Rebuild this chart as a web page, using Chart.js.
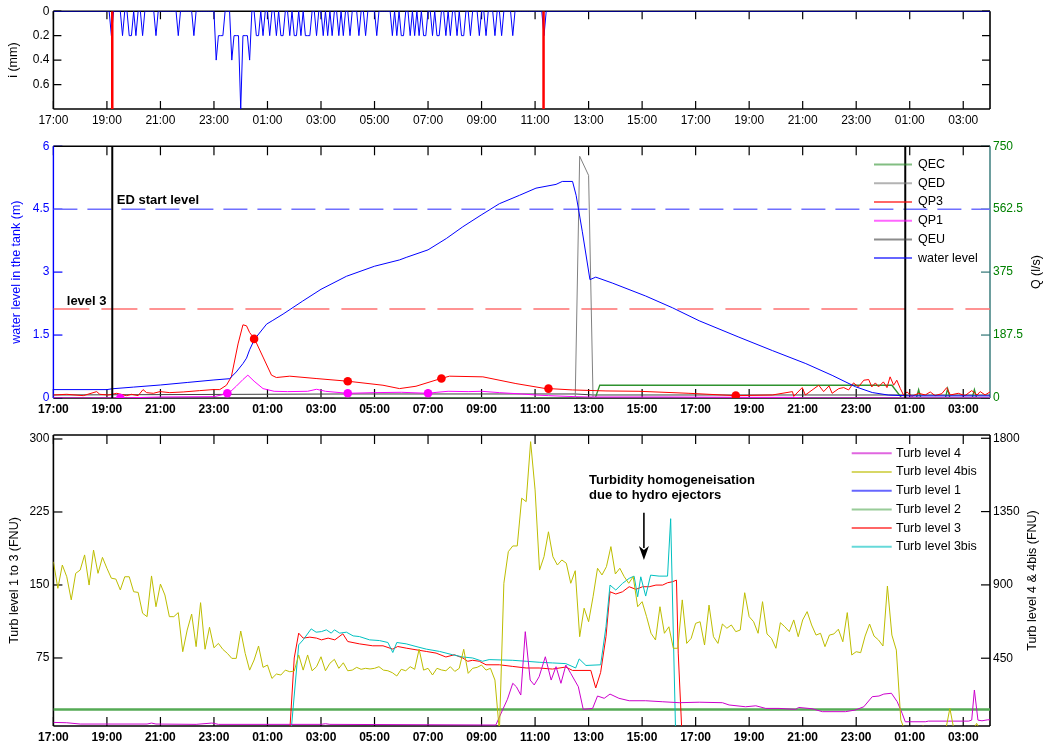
<!DOCTYPE html>
<html>
<head>
<meta charset="utf-8">
<title>Storage tank: rain, water level, flows and turbidity</title>
<script src="https://cdn.jsdelivr.net/npm/chart.js@4.4.1/dist/chart.umd.min.js"></script>
<style>
  html, body { margin: 0; padding: 0; background: #fff; }
  #page { position: relative; width: 1045px; height: 749px; overflow: hidden; }
  #page canvas { position: absolute; left: 0; }
</style>
</head>
<body>
<div id="page">
  <canvas id="rainChart" width="1045" height="135" style="top:0px"></canvas>
  <canvas id="levelChart" width="1045" height="285" style="top:135px"></canvas>
  <canvas id="turbChart" width="1045" height="329" style="top:420px"></canvas>
</div>
<script>
// ---------------------------------------------------------------------------
// Time axis: 17:00 on day 1 to 04:00 on day 3. Clock strings without a day
// prefix are read in sequence (a wrap past 17:00 moves to the next day);
// "d HH:MM" pins the day explicitly.
// ---------------------------------------------------------------------------
const axisSpan = ['1 17:00', '3 04:00'];
const xTickLabels = ['17:00','19:00','21:00','23:00','01:00','03:00','05:00','07:00','09:00',
                     '11:00','13:00','15:00','17:00','19:00','21:00','23:00','01:00','03:00'];

// ---------------- rain intensity, 5-minute steps from 19:00 (mm) -----------
const rainStart = '1 19:00';
const rainStepMinutes = 5;
const rainValues = [
  0,0,0.2,0,0,0,0,0.2,0,0,0.2,0.2,          // 19:00
  0,0.2,0,0,0.2,0,0,0,0,0,0.2,0,            // 20:00
  0,0,0,0,0,0,0,0,0.2,0,0,0,                // 21:00
  0,0,0,0.2,0,0,0,0,0,0,0,0,                // 22:00
  0,0.4,0.2,0.2,0.2,0,0,0,0.4,0.2,0.2,0.2,  // 23:00
  0.8,0.2,0.2,0.2,0.4,0,0,0.2,0.2,0,0.2,0,  // 00:00
  0,0.2,0,0,0.2,0,0.2,0.2,0,0,0.2,0,        // 01:00
  0.2,0.2,0,0.2,0,0.2,0.2,0.2,0,0,0.2,0,    // 02:00
  0,0.2,0,0.2,0,0.2,0,0,0.2,0,0.2,0,        // 03:00
  0,0.2,0,0,0,0.2,0,0,0.2,0,0,0,            // 04:00
  0,0.2,0,0,0,0,0,0,0.2,0,0.2,0,            // 05:00
  0.2,0.2,0,0,0.2,0,0.2,0,0.2,0,0.2,0.2,    // 06:00
  0,0,0.2,0,0.2,0.2,0,0,0.2,0,0.2,0,        // 07:00
  0,0.2,0,0.2,0.2,0,0,0.2,0,0,0,0.2,        // 08:00
  0,0,0.2,0,0,0,0.2,0,0,0.2,0,0,            // 09:00
  0,0,0.2,0,0,0,0,0,0,0,0,0,                // 10:00
  0,0,0,0,0.2,0,0                           // 11:00
];
const rainEventTimes = ['1 19:12', '2 11:19'];
const rainTicks = [0, 0.2, 0.4, 0.6];
const rainTickLabels = ['0', '0.2', '0.4', '0.6'];

// ---------------- water level in the tank (m) -------------------------------
const levelTimes = ['17:00','19:00','19:12','20:00','21:00','22:00','23:00','23:35','23:50','00:05',
  '00:13','00:20','00:31','00:58','01:12','01:35','02:19','03:00','03:57','05:00','05:56','06:11',
  '07:00','07:41','08:18','08:59','09:40','10:25','11:02','11:47','12:01','12:24','12:32','12:46',
  '13:03','13:16','13:53','15:08','16:08','17:08','18:37','19:52','21:07','22:06','22:58','23:36',
  '00:12','01:00','04:00'];
const levelValues = [0.20,0.20,0.22,0.26,0.31,0.37,0.43,0.46,0.62,0.82,
  0.95,1.15,1.40,1.76,1.85,2.00,2.31,2.59,2.90,3.14,3.29,3.35,
  3.53,3.80,4.08,4.36,4.63,4.83,5.00,5.09,5.16,5.16,4.83,3.96,
  2.82,2.88,2.74,2.43,2.15,1.84,1.45,1.13,0.82,0.54,0.27,0.13,
  0.07,0.05,0.05];
const edStartLevel = 4.5;     // m
const level3 = 2.12;          // m
const levelEventTimes = ['1 19:12', '3 00:50'];

// ---------------- flows (l/s) ------------------------------------------------
const qp3Times = ['17:00','17:30','18:07','18:37','18:44','19:03','19:22','19:44','19:55','20:10',
  '20:21','20:29','20:44','20:59','21:21','21:51','22:28','22:58','23:13','23:28',
  '23:39','23:54','00:05','00:13','00:20','00:31','00:50','01:09','01:20','01:50',
  '02:49','04:00','05:19','05:56','06:33','07:29','07:48','09:03','10:17','11:24',
  '11:32','12:24','13:39','14:53','16:45','18:30','19:52','20:37','20:40','20:59',
  '21:06','21:36','21:47','21:59','22:06','22:21','22:32','22:43','22:54','23:05',
  '23:17','23:28','23:35','23:43','23:50','00:01','00:09','00:16','00:24','00:31',
  '00:39','00:46','00:54','01:05','01:20','01:35','01:46','01:57','02:12','02:23',
  '02:31','02:49','03:04','03:19','03:31','03:38','03:49','04:00'];
const qp3Values = [9,11,7,19,11,9,14,7,11,7,
  25,16,14,19,16,18,22,25,25,38,
  63,161,218,215,195,176,122,68,61,65,
  58,50,38,28,35,58,65,63,43,28,
  28,24,21,20,14,7,9,19,5,31,
  9,38,19,36,14,28,31,24,45,33,
  53,55,33,45,33,48,31,63,38,53,
  28,9,18,5,14,9,18,7,13,31,
  9,14,7,22,9,19,9,18];
const qp3MarkerTimes = ['2 00:30', '2 04:00', '2 07:30', '2 11:30', '2 18:30'];
const qp3MarkerValues = [176, 50, 58, 28, 7];

const qp1Times = ['17:00','19:30','20:30','21:00','23:00','23:33','23:50','00:05','00:16','00:30',
  '00:50','01:15','01:45','02:30','02:50','03:10','04:00','05:00','06:00','07:00',
  '07:20','07:45','08:30','09:00','09:40','10:30','11:00','11:30','12:30','13:00',
  '16:00','19:00','20:40','21:00','04:00'];
const qp1Values = [0,0,2,3,4,14,35,55,68,50,
  28,20,19,20,26,20,14,16,17,14,
  17,20,19,20,16,12,9,7,4,3,
  3,2,2,0,0];
const qp1MarkerTimes = ['1 19:30', '1 23:30', '2 04:00', '2 07:00'];
const qp1MarkerValues = [0, 14, 14, 14];

const qedTimes = ['17:00','12:30','12:40','13:00','13:10','04:00'];
const qedValues = [0, 0, 720, 663, 0, 0];

const qecTimes = ['03:30','13:15','13:25','00:20','00:42','01:15','01:20','01:25','02:20','02:25',
  '02:30','03:20','03:25','03:30','04:00'];
const qecValues = [0, 0, 38, 38, 0, 0, 25, 0, 0, 28, 0, 0, 25, 0, 0];

const qeuTimes = ['17:00','04:00','12:30','13:10','04:00'];
const qeuValues = [9, 12, 12, 9, 9];

const levelTicks = [0, 1.5, 3, 4.5, 6];
const levelTickLabels = ['0', '1.5', '3', '4.5', '6'];
const flowTicks = [0, 187.5, 375, 562.5, 750];
const flowTickLabels = ['0', '187.5', '375', '562.5', '750'];

// ---------------- turbidity (FNU) --------------------------------------------
const turb4Times = ['17:00','17:30','18:00','20:30','20:40','20:50','22:20','22:55','23:00','23:10',
  '03:00','03:10','03:20','09:32','09:47','09:58','10:10','10:18','10:28','10:38',
  '10:49','10:58','11:09','11:23','11:36','11:47','11:58','12:09','12:20','12:37',
  '12:48','13:09','13:20','13:35','13:48','14:08','14:31','15:08','15:45','16:23',
  '17:08','18:00','18:15','18:52','19:15','19:37','20:07','20:44','20:51','21:21',
  '21:44','22:36','22:58','23:17','23:36','23:51','00:02','00:19','00:32','00:43',
  '00:50','01:35','01:42','03:12','03:19','03:25','03:33','03:42','03:55','04:00'];
const turb4Values = [56,54,46,46,52,46,44,52,50,44,
  44,48,44,40,132,198,296,275,224,613,
  316,286,336,459,316,398,296,408,357,275,
  136,142,218,204,230,204,189,189,183,177,
  180,177,163,152,158,142,142,136,148,140,
  122,122,132,152,214,218,230,235,183,112,
  60,60,64,64,70,255,70,66,72,72];

// Turb level 4bis, 10-minute steps from 17:00
const turb4bisStart = '1 17:00';
const turb4bisStepMinutes = 10;
const turb4bisValues = [
  1042,879,1022,950,808,971,991,1084,899,1114,
  971,1069,1002,941,936,869,950,950,858,854,
  726,705,955,766,905,838,705,705,730,490,
  623,721,521,791,505,640,514,541,504,480,
  449,449,617,480,377,439,525,394,408,326,
  353,347,377,367,371,470,377,470,373,398,
  459,373,419,443,388,422,373,377,394,382,
  388,384,388,398,377,373,361,341,382,373,
  398,382,505,377,388,347,388,378,373,398,
  369,388,505,357,388,394,408,377,388,316,
  0,910,1104,1139,1139,1432,1411,1779,1483,991,
  1073,1226,1073,1022,1053,1033,910,987,582,757,
  674,827,1002,961,1012,1135,967,1002,950,910,
  950,766,797,705,603,562,766,603,643,511,
  511,808,541,572,664,674,531,776,582,541,
  660,634,654,613,623,852,705,674,603,797,
  599,572,511,668,643,613,685,582,685,736,
  654,592,603,521,592,599,628,551,730,470,
  490,484,586,660,586,562,525,893,592,500,
  71,0,0,0,0,36,0,0,0,0,
  0,142,0,0,0,0,0,50,0,0,0];

const turb1Times = ['1 17:00', '3 04:00'];
const turb1Values = [2, 2];
const turb2Times = ['1 17:00', '3 04:00'];
const turb2Values = [22, 22];

const turb3Times = ['17:00','01:50','02:00','02:10','02:20','02:35','02:50','03:01','03:16','03:31',
  '03:49','04:00','04:26','04:56','05:19','05:41','05:52','06:11','06:33','06:56',
  '07:18','07:40','07:59','08:18','08:29','08:40','08:55','09:10','09:40','10:10',
  '10:40','11:09','11:39','12:09','12:24','13:05','13:16','13:27','13:39','13:48',
  '14:01','14:16','14:31','14:46','15:01','15:16','15:31','15:46','15:57','16:08',
  '16:17','16:21','16:29','3 04:00'];
const turb3Values = [0,0,75,100.5,95.4,96.4,95.4,93.6,95.4,93.6,
  99.8,91.9,89.5,87.5,87.5,84.1,86.8,85.1,83.4,81.7,
  80,76,78.3,75,71.6,72.6,71.6,68,68,66.3,
  64.7,64.7,63.6,65.7,62.2,62.2,44.2,60.2,97,143,
  140.7,143,148.2,145.5,148.2,148.2,149.9,149.9,152.3,153.3,
  155,80,0,0];

const turb3bisTimes = ['17:00','01:53','02:10','02:20','02:38','02:49','03:01','03:12','03:23','03:30',
  '03:42','03:57','04:12','04:26','04:49','05:11','05:30','05:41','05:50','06:11',
  '06:33','06:56','07:26','07:55','08:18','08:40','09:02','09:17','10:10','10:40',
  '11:09','11:39','12:09','12:31','12:39','12:54','13:27','13:39','13:48','14:01',
  '14:16','14:31','14:42','14:50','14:57','15:08','15:19','15:38','15:57','16:04',
  '16:15','3 04:00'];
const turb3bisValues = [0,0,88.5,93.6,104.9,101.5,102.1,103.9,100.5,103.9,
  100.5,101.5,97.7,97,93.6,92.9,90.9,80.6,90.9,89.5,
  86.8,84.1,81.7,78.3,76,75,71.6,73.3,72.6,71.6,
  70.6,69.9,69.2,64.7,74,67.3,68,107.2,149.9,144.8,
  151.6,156.8,159.1,137.9,158.4,138.6,160.1,159.1,159.1,218.1,
  0,0];

const turbLeftTicks = [75, 150, 225, 300];
const turbLeftTickLabels = ['75', '150', '225', '300'];
const turbRightTicks = [450, 900, 1350, 1800];
const turbRightTickLabels = ['450', '900', '1350', '1800'];

// ---------------------------------------------------------------------------
// helpers
// ---------------------------------------------------------------------------
const AXIS_START = 17;
function parseTimes(list) {
  let prev = -Infinity, shift = 0;
  return list.map(s => {
    let day = null, clock = s;
    if (s.indexOf(' ') >= 0) { const p = s.split(' '); day = +p[0]; clock = p[1]; }
    const parts = clock.split(':').map(Number);
    const hod = parts[0] + parts[1] / 60;
    const base = (hod - AXIS_START + 24) % 24;
    let h;
    if (day !== null) {
      h = (day - 1) * 24 + hod - AXIS_START;
      shift = h - base;
    } else {
      h = base + shift;
      if (h < prev) { shift += 24; h += 24; }
    }
    prev = h;
    return h;
  });
}
function series(times, values) {
  const hrs = parseTimes(times);
  return hrs.map((h, i) => ({ x: h, y: values[i] }));
}
function regularSeries(start, stepMinutes, values) {
  const h0 = parseTimes([start])[0];
  return values.map((v, i) => ({ x: h0 + i * stepMinutes / 60, y: v }));
}
function verticalMarks(times, lo, hi) {
  const out = [];
  parseTimes(times).forEach(h => { out.push({ x: h, y: lo }, { x: h, y: hi }, { x: h, y: null }); });
  return out;
}
function horizontalLevel(value) {
  const s = parseTimes(axisSpan);
  return [{ x: s[0], y: value }, { x: s[1], y: value }];
}
const span = parseTimes(axisSpan);
const xTickHours = parseTimes(xTickLabels);

const FONT = '"Liberation Sans", Arial, Helvetica, sans-serif';
Chart.defaults.font.family = FONT;
Chart.defaults.font.size = 12;
Chart.defaults.color = '#000';

const LEFT_W = 53.4, RIGHT_W = 55;

function xAxis(bold, height, pad) {
  return {
    type: 'linear', position: 'bottom', min: span[0], max: span[1],
    grid: { display: false, drawTicks: false }, border: { display: false },
    afterBuildTicks: s => { s.ticks = xTickHours.map(v => ({ value: v })); },
    afterFit: s => { s.height = height; },
    ticks: {
      autoSkip: false, maxRotation: 0, minRotation: 0, padding: pad, color: '#000',
      font: { size: 12, weight: bold ? 'bold' : 'normal' },
      callback: (v, i) => xTickLabels[i]
    }
  };
}
function yAxis(pos, min, max, values, labels, color, reverse) {
  return {
    type: 'linear', position: pos, min: min, max: max, reverse: !!reverse,
    grid: { display: false, drawTicks: false }, border: { display: false },
    afterBuildTicks: s => { s.ticks = values.map(v => ({ value: v })); },
    afterFit: s => { s.width = pos === 'left' ? LEFT_W : RIGHT_W; },
    ticks: {
      padding: pos === 'left' ? 4 : 3, color: color, font: { size: 12 },
      callback: (v, i) => labels[i]
    }
  };
}
function line(label, data, color, axis, width, order, extra) {
  return Object.assign({
    label: label, data: data, borderColor: color, backgroundColor: color,
    borderWidth: width, pointRadius: 0, pointHoverRadius: 0, fill: false, tension: 0,
    spanGaps: false, yAxisID: axis, order: order, inLegend: true
  }, extra || {});
}
function markers(data, color, axis) {
  return {
    label: '', data: data, showLine: false, pointRadius: 4.3, pointBorderWidth: 0,
    pointBackgroundColor: color, pointBorderColor: color, borderColor: color,
    yAxisID: axis, order: 0, inLegend: false
  };
}

// ---------------------------------------------------------------------------
// plugins: axes box with inward ticks, axis titles, legend inside the axes,
// text annotations
// ---------------------------------------------------------------------------
const framePlugin = {
  id: 'frame',
  beforeDatasetsDraw(chart, args, o) {
    const ctx = chart.ctx, a = chart.chartArea, L = o.tickLength || 8;
    ctx.save();
    (o.ticks || []).forEach(t => {
      const s = chart.scales[t.scale];
      ctx.strokeStyle = t.color; ctx.lineWidth = t.width || 1.2;
      s.ticks.forEach(tk => {
        const p = s.getPixelForValue(tk.value);
        ctx.beginPath();
        t.sides.forEach(side => {
          if (side === 'top') { ctx.moveTo(p, a.top); ctx.lineTo(p, a.top + L); }
          if (side === 'bottom') { ctx.moveTo(p, a.bottom); ctx.lineTo(p, a.bottom - L); }
          if (side === 'left') { ctx.moveTo(a.left, p); ctx.lineTo(a.left + L, p); }
          if (side === 'right') { ctx.moveTo(a.right, p); ctx.lineTo(a.right - L, p); }
        });
        ctx.stroke();
      });
    });
    const e = o.edges;
    const edge = (cfg, x1, y1, x2, y2) => {
      ctx.strokeStyle = cfg.color; ctx.lineWidth = cfg.width;
      ctx.beginPath(); ctx.moveTo(x1, y1); ctx.lineTo(x2, y2); ctx.stroke();
    };
    edge(e.top, a.left, a.top, a.right, a.top);
    edge(e.bottom, a.left, a.bottom, a.right, a.bottom);
    edge(e.left, a.left, a.top, a.left, a.bottom);
    edge(e.right, a.right, a.top, a.right, a.bottom);
    ctx.restore();
  }
};

const axisTitlePlugin = {
  id: 'axisTitles',
  afterDraw(chart, args, o) {
    const ctx = chart.ctx, a = chart.chartArea;
    ctx.save();
    (o.items || []).forEach(it => {
      ctx.save();
      ctx.translate(it.x, (a.top + a.bottom) / 2);
      ctx.rotate(-Math.PI / 2);
      ctx.font = (it.size || 12.5) + 'px ' + FONT;
      ctx.fillStyle = it.color || '#000';
      ctx.textAlign = 'center'; ctx.textBaseline = 'middle';
      ctx.fillText(it.text, 0, 0);
      ctx.restore();
    });
    ctx.restore();
  }
};

const insideLegendPlugin = {
  id: 'insideLegend',
  afterDatasetsDraw(chart, args, o) {
    if (!o.display) return;
    const ctx = chart.ctx, a = chart.chartArea;
    const items = chart.data.datasets.filter(d => d.inLegend);
    ctx.save();
    ctx.font = (o.fontSize || 12.5) + 'px ' + FONT;
    ctx.textBaseline = 'middle'; ctx.textAlign = 'left';
    items.forEach((d, k) => {
      const y = a.top + o.top + k * o.rowHeight;
      ctx.globalAlpha = o.sampleAlpha || 0.6;
      ctx.strokeStyle = d.borderColor; ctx.lineWidth = 2;
      ctx.beginPath(); ctx.moveTo(a.right - o.lineStart, y); ctx.lineTo(a.right - o.lineEnd, y); ctx.stroke();
      ctx.globalAlpha = 1;
      ctx.fillStyle = '#000';
      ctx.fillText(d.label, a.right - o.textStart, y);
    });
    ctx.restore();
  }
};

const notesPlugin = {
  id: 'notes',
  afterDatasetsDraw(chart, args, o) {
    const ctx = chart.ctx, xs = chart.scales.x;
    ctx.save();
    (o.texts || []).forEach(t => {
      const ys = chart.scales[t.scale];
      ctx.font = 'bold ' + (t.size || 13) + 'px ' + FONT;
      ctx.fillStyle = '#000'; ctx.textAlign = 'left'; ctx.textBaseline = 'middle';
      ctx.fillText(t.text, xs.getPixelForValue(parseTimes([t.time])[0]), ys.getPixelForValue(t.value));
    });
    (o.arrows || []).forEach(ar => {
      const ys = chart.scales[ar.scale];
      const x = xs.getPixelForValue(parseTimes([ar.time])[0]);
      const y1 = ys.getPixelForValue(ar.from), y2 = ys.getPixelForValue(ar.to);
      const head = 14, half = 5;
      ctx.strokeStyle = '#000'; ctx.fillStyle = '#000'; ctx.lineWidth = 1.6;
      ctx.beginPath(); ctx.moveTo(x, y1); ctx.lineTo(x, y2 - head + 2); ctx.stroke();
      ctx.beginPath(); ctx.moveTo(x, y2); ctx.lineTo(x - half, y2 - head);
      ctx.lineTo(x, y2 - head + 4); ctx.lineTo(x + half, y2 - head); ctx.closePath(); ctx.fill();
    });
    ctx.restore();
  }
};

const commonPlugins = { legend: { display: false }, tooltip: { enabled: false } };
const blackEdge = { color: '#000', width: 1.6 };

// ---------------------------------------------------------------------------
// 1. rain intensity (reversed axis)
// ---------------------------------------------------------------------------
const rainData = [{ x: span[0], y: 0 }]
  .concat(regularSeries(rainStart, rainStepMinutes, rainValues))
  .concat([{ x: span[1], y: 0 }]);

new Chart(document.getElementById('rainChart'), {
  type: 'line',
  data: {
    datasets: [
      line('i (mm)', rainData, '#0000ff', 'y', 1, 1),
      line('rain events', verticalMarks(rainEventTimes, 0, 0.8), '#ff0000', 'y', 2.5, 0)
    ]
  },
  options: {
    responsive: false, animation: false, events: [],
    layout: { padding: { left: 0, right: RIGHT_W, top: 10.7, bottom: 0 } },
    scales: {
      x: xAxis(false, 26, 4),
      y: yAxis('left', 0, 0.8, rainTicks, rainTickLabels, '#000', true)
    },
    plugins: Object.assign({}, commonPlugins, {
      frame: {
        tickLength: 8,
        edges: { top: blackEdge, bottom: blackEdge, left: blackEdge, right: blackEdge },
        ticks: [
          { scale: 'x', sides: ['top', 'bottom'], color: '#000' },
          { scale: 'y', sides: ['left', 'right'], color: '#000' }
        ]
      },
      axisTitles: { items: [{ text: 'i (mm)', x: 14 }] }
    })
  },
  plugins: [framePlugin, axisTitlePlugin]
});

// ---------------------------------------------------------------------------
// 2. water level and flows
// ---------------------------------------------------------------------------
new Chart(document.getElementById('levelChart'), {
  type: 'line',
  data: {
    datasets: [
      line('QEC', series(qecTimes, qecValues), '#2e922e', 'y1', 1.3, 6),
      line('QED', series(qedTimes, qedValues), '#808080', 'y1', 1, 5),
      line('QP3', series(qp3Times, qp3Values), '#ff0000', 'y1', 1, 3),
      line('QP1', series(qp1Times, qp1Values), '#ff00ff', 'y1', 1, 4),
      line('QEU', series(qeuTimes, qeuValues), '#404040', 'y1', 1, 7),
      line('water level', series(levelTimes, levelValues), '#0000ff', 'y', 1, 2),
      line('ED start level', horizontalLevel(edStartLevel), '#6f6fff', 'y', 1.5, 8,
           { borderDash: [24, 10], inLegend: false }),
      line('level 3', horizontalLevel(level3), '#ff7070', 'y', 1.5, 8,
           { borderDash: [36, 12], inLegend: false }),
      line('events', verticalMarks(levelEventTimes, 0, 6), '#000000', 'y', 2, 1, { inLegend: false }),
      markers(series(qp3MarkerTimes, qp3MarkerValues), '#ff0000', 'y1'),
      markers(series(qp1MarkerTimes, qp1MarkerValues), '#ff00ff', 'y1')
    ]
  },
  options: {
    responsive: false, animation: false, events: [],
    layout: { padding: { left: 0, right: 0, top: 8.3, bottom: 0 } },
    scales: {
      x: xAxis(true, 22, 4),
      y: yAxis('left', 0, 6, levelTicks, levelTickLabels, '#0000ff'),
      y1: yAxis('right', 0, 750, flowTicks, flowTickLabels, '#008000')
    },
    plugins: Object.assign({}, commonPlugins, {
      frame: {
        tickLength: 9,
        edges: {
          top: blackEdge, bottom: blackEdge,
          left: { color: '#0000ff', width: 1.4 }, right: { color: '#2e7474', width: 1.4 }
        },
        ticks: [
          { scale: 'x', sides: ['top', 'bottom'], color: '#000' },
          { scale: 'y', sides: ['left'], color: '#0000ff' },
          { scale: 'y1', sides: ['right'], color: '#2e7474' }
        ]
      },
      axisTitles: { items: [
        { text: 'water level in the tank (m)', x: 17, color: '#0000ff' },
        { text: 'Q (l/s)', x: 1037, color: '#000' }
      ] },
      insideLegend: { display: true, top: 18.4, rowHeight: 18.7, lineStart: 116, lineEnd: 78, textStart: 72 },
      notes: { texts: [
        { text: 'ED start level', time: '1 19:22', value: 4.70, scale: 'y' },
        { text: 'level 3', time: '1 17:30', value: 2.29, scale: 'y' }
      ] }
    })
  },
  plugins: [framePlugin, axisTitlePlugin, insideLegendPlugin, notesPlugin]
});

// ---------------------------------------------------------------------------
// 3. turbidity
// ---------------------------------------------------------------------------
new Chart(document.getElementById('turbChart'), {
  type: 'line',
  data: {
    datasets: [
      line('Turb level 4', series(turb4Times, turb4Values), '#cc00cc', 'y1', 1, 1),
      line('Turb level 4bis', regularSeries(turb4bisStart, turb4bisStepMinutes, turb4bisValues), '#bdbd00', 'y1', 1, 0),
      line('Turb level 1', series(turb1Times, turb1Values), '#0000ff', 'y', 1, 5),
      line('Turb level 2', series(turb2Times, turb2Values), '#55aa55', 'y', 2.5, 4),
      line('Turb level 3', series(turb3Times, turb3Values), '#ff0000', 'y', 1, 3),
      line('Turb level 3bis', series(turb3bisTimes, turb3bisValues), '#00c0c0', 'y', 1, 2)
    ]
  },
  options: {
    responsive: false, animation: false, events: [],
    layout: { padding: { left: 0, right: 0, top: 15, bottom: 0 } },
    scales: {
      x: xAxis(true, 23, 4),
      y: yAxis('left', 5.1, 304.1, turbLeftTicks, turbLeftTickLabels, '#000'),
      y1: yAxis('right', 34, 1820, turbRightTicks, turbRightTickLabels, '#000')
    },
    plugins: Object.assign({}, commonPlugins, {
      frame: {
        tickLength: 9,
        edges: { top: blackEdge, bottom: blackEdge, left: blackEdge, right: blackEdge },
        ticks: [
          { scale: 'x', sides: ['top', 'bottom'], color: '#000' },
          { scale: 'y', sides: ['left'], color: '#000' },
          { scale: 'y1', sides: ['right'], color: '#000' }
        ]
      },
      axisTitles: { items: [
        { text: 'Turb level 1 to 3 (FNU)', x: 15 },
        { text: 'Turb level 4 & 4bis (FNU)', x: 1033 }
      ] },
      insideLegend: { display: true, top: 18.3, rowHeight: 18.7, lineStart: 138.3, lineEnd: 98.3, textStart: 94 },
      notes: {
        texts: [
          { text: 'Turbidity homogeneisation', time: '2 13:01', value: 257.9, scale: 'y' },
          { text: 'due to hydro ejectors', time: '2 13:01', value: 242.5, scale: 'y' }
        ],
        arrows: [{ time: '2 15:04', from: 224.3, to: 175.7, scale: 'y' }]
      }
    })
  },
  plugins: [framePlugin, axisTitlePlugin, insideLegendPlugin, notesPlugin]
});
</script>
</body>
</html>
